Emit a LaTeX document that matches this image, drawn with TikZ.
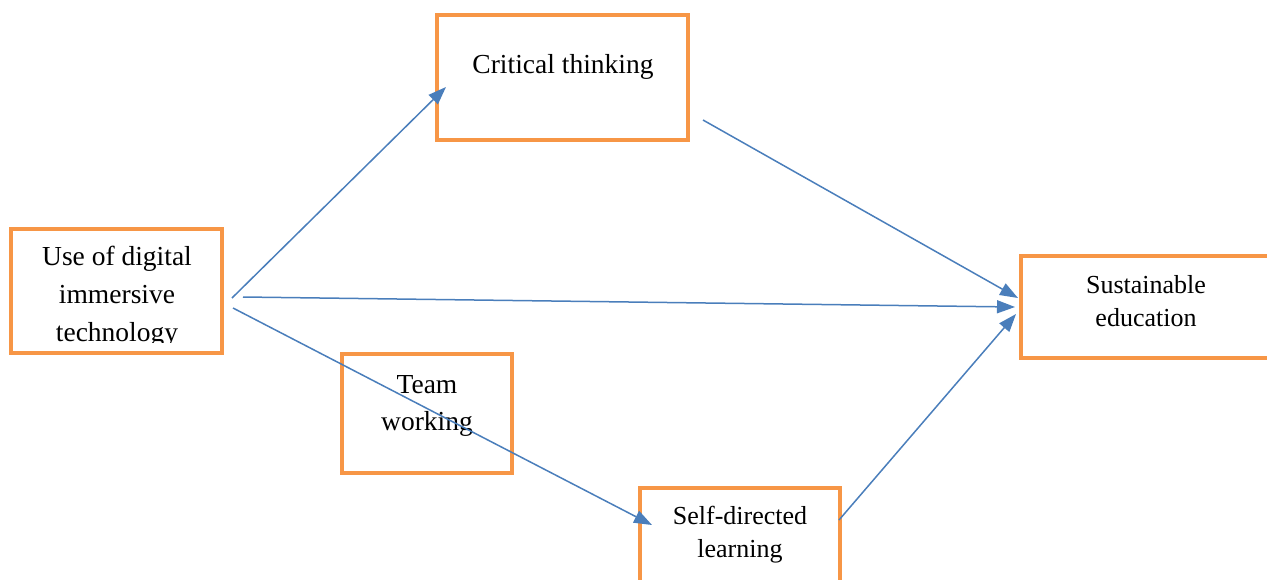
\documentclass[tikz,border=0pt]{standalone}
\usepackage{fontspec}
\setmainfont{Liberation Serif}
\usetikzlibrary{arrows.meta}
\definecolor{boxorange}{HTML}{F79646}
\definecolor{lineblue}{HTML}{4A7EBB}
\begin{document}
\begin{tikzpicture}[x=1pt,y=-1pt,
  box/.style={draw=boxorange,line width=4pt,rectangle,inner sep=0pt,fill=white},
  txt/.style={anchor=base,inner sep=0pt,font=\fontsize{27.5}{30}\selectfont},
  txts/.style={anchor=base,inner sep=0pt,font=\fontsize{26}{28}\selectfont},
  conn/.style={draw=lineblue,line width=1.5pt,-{Triangle[length=18pt,width=13pt]}}]
\useasboundingbox (0,0) rectangle (1267,579);
\clip (0,0) rectangle (1267,579);
% boxes
\node[box,minimum width=211pt,minimum height=124pt] (use) at (116.5,291) {};
\node[box,minimum width=251pt,minimum height=125pt] (crit) at (562.5,77.5) {};
\node[box,minimum width=268pt,minimum height=102pt] (sust) at (1155,307) {};
\node[box,minimum width=170pt,minimum height=119pt] (team) at (427,413.5) {};
\node[box,minimum width=200pt,minimum height=122pt] (self) at (740,549) {};
% texts
\node[txt] (use1) at (117,265) {Use of digital};
\node[txt] (use2) at (117,303) {immersive};
\begin{scope}
\clip (20,310) rectangle (215,342.5);
\node[txt] (use3) at (117,341) {technology};
\end{scope}
\node[txt] (crit1) at (563,73) {Critical thinking};
\node[txts] (sust1) at (1146,293) {Sustainable};
\node[txts] (sust2) at (1146,326) {education};
\node[txt] (team1) at (427,393) {Team};
\node[txt] (team2) at (427,430) {working};
\node[txts] (self1) at (740,524) {Self-directed};
\node[txts] (self2) at (740,557) {learning};
% connector ends
\coordinate (s1) at (232,298);
\coordinate (e1) at (446,87);
\coordinate (s2) at (243,297);
\coordinate (e2) at (1015,307);
\coordinate (s3) at (233,308);
\coordinate (e3) at (652,525);
\coordinate (s4) at (703,120);
\coordinate (e4) at (1018,298);
\coordinate (s5) at (839,520);
\coordinate (e5) at (1016,314);
\draw[conn] (s1) -- (e1);
\draw[conn] (s2) -- (e2);
\draw[conn] (s3) -- (e3);
\draw[conn] (s4) -- (e4);
\draw[conn] (s5) -- (e5);
\end{tikzpicture}
\end{document}
